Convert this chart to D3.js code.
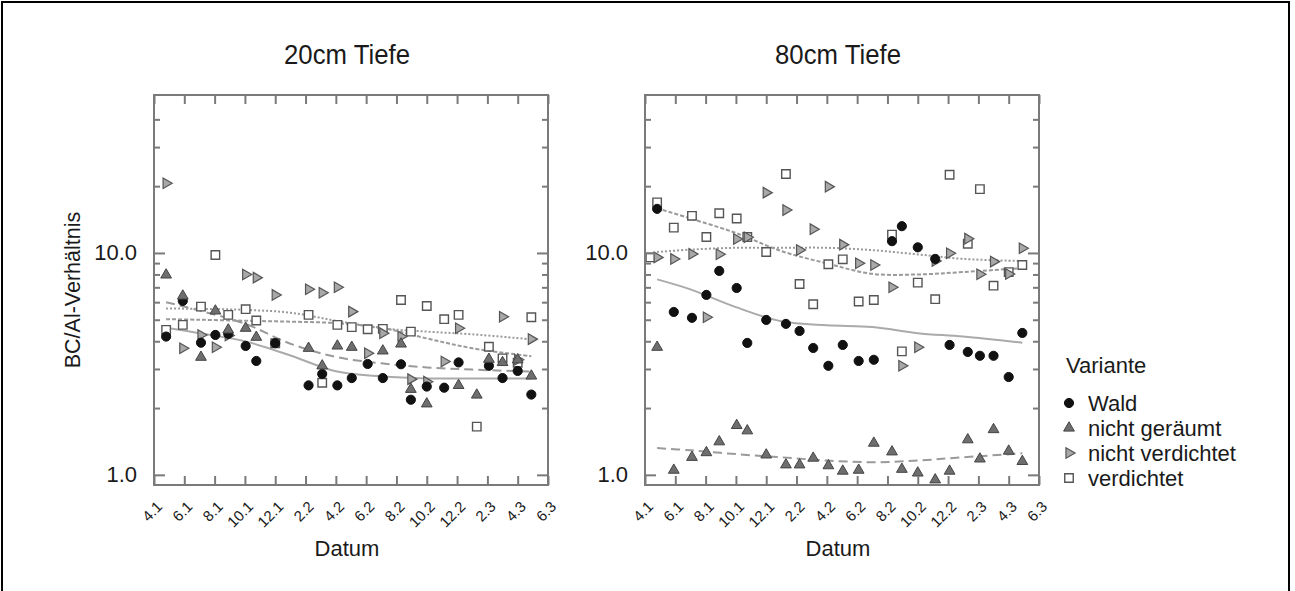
<!DOCTYPE html>
<html>
<head>
<meta charset="utf-8">
<script src="https://cdn.jsdelivr.net/npm/d3@7"></script>
<style>
  html, body { margin: 0; padding: 0; background: #fff; }
  svg { display: block; font-family: "Liberation Sans", Arial, Helvetica, sans-serif; }
</style>
</head>
<body>
<svg id="chart" width="1295" height="591"></svg>
<script>
// Sampling dates, in months counted from the 4.1 tick (April, year 1)
const sampleMonths = [0.35, 0.8, 1.9, 3.1, 4.05, 4.9, 6.05, 6.75, 8.0, 9.3, 10.2, 11.1, 12.1,
  13.05, 14.1, 15.1, 16.3, 16.95, 18.0, 19.15, 20.1, 21.3, 22.1, 23.0, 24.0, 24.9];

// Axis ticks: every second month, labelled month.year
const tickMonths = d3.range(0, 27, 2);
const tickLabels = ["4.1", "6.1", "8.1", "10.1", "12.1", "2.2", "4.2", "6.2", "8.2", "10.2", "12.2", "2.3", "4.3", "6.3"];

const variants = ["Wald", "nicht geräumt", "nicht verdichtet", "verdichtet"];

// BC/Al ratio, 20 cm depth
const wald20 = [null, 4.20, 6.08, 3.94, 4.27, 4.32, 3.81, 3.26, 3.92, null, 2.53, 2.85, 2.53,
  2.73, 3.16, 2.73, 3.15, 2.18, 2.50, 2.47, 3.21, null, 3.10, 2.73, 2.94, 2.30];
const geraeumt20 = [null, 7.96, 6.40, 3.39, 5.48, 4.50, 4.58, 4.17, null, null, 3.72, 3.10, 3.81,
  3.76, null, 3.62, 3.89, 2.43, 2.09, null, 2.53, 2.29, 3.32, 3.21, 3.30, 2.79];
const nichtVerd20 = [null, 20.6, 3.72, 4.27, 3.76, 4.25, 8.0, 7.74, 6.47, null, 6.86, 6.62, 7.0,
  5.44, 3.53, 4.35, 4.20, 2.70, 2.63, 3.24, 4.58, null, null, 5.16, 3.30, 4.09];
const verd20 = [null, 4.50, 4.74, 5.73, 9.79, 5.26, 5.58, 4.96, 3.92, null, 5.26, 2.60, 4.74,
  4.63, 4.53, 4.55, 6.14, 4.42, 5.77, 5.03, 5.26, 1.65, 3.78, 3.35, 3.20, 5.13];

// BC/Al ratio, 80 cm depth
const wald80 = [null, 15.8, 5.42, 5.10, 6.47, 8.30, 6.95, 3.93, 4.99, 4.79, 4.45, 3.73, 3.10,
  3.85, 3.26, 3.30, 11.3, 13.2, 10.6, 9.40, 3.85, 3.58, 3.44, 3.44, 2.76, 4.36];
const geraeumt80 = [null, 3.76, 1.05, 1.20, 1.26, 1.41, 1.67, 1.58, 1.23, 1.11, 1.11, 1.19, 1.10,
  1.04, 1.05, 1.39, 1.27, 1.06, 1.02, 0.95, 1.04, 1.44, 1.18, 1.60, 1.28, 1.15];
const nichtVerd80 = [null, 9.55, 9.40, 9.90, 5.13, 9.86, 11.56, 11.77, 18.7, 15.6, 10.3, 12.8, 19.9,
  10.9, 8.99, 8.83, 7.01, 3.10, 3.76, 9.20, 9.97, 11.6, 8.02, 9.14, 8.04, 10.5];
const verd80 = [9.55, 16.9, 13.0, 14.7, 11.8, 15.1, 14.3, 11.8, 10.1, 22.7, 7.25, 5.87, 8.89,
  9.36, 6.04, 6.14, 12.1, 3.60, 7.35, 6.19, 22.5, 11.0, 19.4, 7.12, 8.2, 8.83];

// Smoothed trend per variant, evaluated at these months
const trendMonths = [0.8, 3, 6, 9, 12, 15, 18, 21, 24.9];
const trendWald20 = [4.6, 4.35, 4.0, 3.45, 2.93, 2.78, 2.72, 2.72, 2.72];
const trendGeraeumt20 = [6.0, 5.5, 4.8, 3.9, 3.4, 3.18, 3.05, 2.98, 2.92];
const trendNichtVerd20 = [5.62, 5.6, 5.54, 5.38, 4.95, 4.58, 4.42, 4.3, 4.08];
const trendVerd20 = [5.03, 5.0, 4.95, 4.9, 4.83, 4.6, 4.12, 3.72, 3.42];
const trendWald80 = [7.6, 6.85, 5.7, 4.92, 4.72, 4.64, 4.35, 4.2, 3.94];
const trendGeraeumt80 = [1.32, 1.29, 1.24, 1.20, 1.16, 1.14, 1.16, 1.20, 1.25];
const trendNichtVerd80 = [10.1, 10.35, 10.55, 10.55, 10.55, 10.3, 9.85, 9.4, 9.2];
const trendVerd80 = [15.9, 14.3, 12.3, 10.2, 8.97, 8.05, 8.0, 8.2, 8.55];

const yMajor = [1, 10];
const yMinor = [2, 3, 4, 5, 6, 7, 8, 9, 20, 30, 40];

// ---------------------------------------------------------------------------
const svg = d3.select("#chart");
const textColor = "#1a1a1a";
const frameColor = "#7a7a7a";

// outer border
svg.append("rect").attr("x", 2).attr("y", 2).attr("width", 1287).attr("height", 620)
  .attr("fill", "none").attr("stroke", "#000").attr("stroke-width", 2);

const plotTop = 95, plotBottom = 485, plotWidth = 394;
const y = d3.scaleLog().domain([0.9, 51.5]).range([plotBottom, plotTop]);

const styles = {
  "Wald": { symbol: d3.symbolCircle, size: 66, rotate: 0, fill: "#111", stroke: "#111", sw: 1,
            line: "#aaa", dash: null },
  "nicht geräumt": { symbol: d3.symbolTriangle, size: 50, rotate: 0, fill: "#6e6e6e", stroke: "#444", sw: 1,
            line: "#9a9a9a", dash: "9,5" },
  "nicht verdichtet": { symbol: d3.symbolTriangle, size: 48, rotate: 90, fill: "#a8a8a8", stroke: "#555", sw: 1.2,
            line: "#9a9a9a", dash: "2,2" },
  "verdichtet": { symbol: d3.symbolSquare, size: 72, rotate: 0, fill: "#fff", stroke: "#555", sw: 1.4,
            line: "#9a9a9a", dash: "4,2" }
};

const panels = [
  { title: "20cm Tiefe", x0: 154, yTitle: true,
    series: { "Wald": wald20, "nicht geräumt": geraeumt20, "nicht verdichtet": nichtVerd20, "verdichtet": verd20 },
    trends: { "Wald": trendWald20, "nicht geräumt": trendGeraeumt20, "nicht verdichtet": trendNichtVerd20, "verdichtet": trendVerd20 } },
  { title: "80cm Tiefe", x0: 645, yTitle: false,
    series: { "Wald": wald80, "nicht geräumt": geraeumt80, "nicht verdichtet": nichtVerd80, "verdichtet": verd80 },
    trends: { "Wald": trendWald80, "nicht geräumt": trendGeraeumt80, "nicht verdichtet": trendNichtVerd80, "verdichtet": trendVerd80 } }
];

function symbolPath(v) {
  return d3.symbol().type(styles[v].symbol).size(styles[v].size)();
}

panels.forEach(p => {
  const x = d3.scaleLinear().domain([0, 26]).range([p.x0, p.x0 + plotWidth]);
  const g = svg.append("g");

  // title (slightly condensed lettering)
  const cx = p.x0 + plotWidth / 2 - 4;
  g.append("text")
    .attr("transform", `translate(${cx},64) scale(0.92,1)`)
    .attr("text-anchor", "middle").attr("font-size", 28).attr("fill", textColor)
    .text(p.title);

  // trend lines
  const line = d3.line()
    .x((d, i) => x(trendMonths[i]))
    .y(d => y(d))
    .curve(d3.curveCatmullRom);
  variants.forEach(v => {
    g.append("path").datum(p.trends[v])
      .attr("d", line)
      .attr("fill", "none")
      .attr("stroke", styles[v].line)
      .attr("stroke-width", 2)
      .attr("stroke-dasharray", styles[v].dash);
  });

  // points
  ["verdichtet", "nicht verdichtet", "Wald", "nicht geräumt"].forEach(v => {
    const st = styles[v];
    const pts = p.series[v].map((val, i) => ({ m: sampleMonths[i], val })).filter(d => d.val != null);
    g.append("g").selectAll("path").data(pts).join("path")
      .attr("d", symbolPath(v))
      .attr("transform", d => `translate(${x(d.m)},${y(d.val)}) rotate(${st.rotate})`)
      .attr("fill", st.fill).attr("stroke", st.stroke).attr("stroke-width", st.sw);
  });

  // frame
  g.append("rect").attr("x", p.x0).attr("y", plotTop).attr("width", plotWidth)
    .attr("height", plotBottom - plotTop).attr("fill", "none")
    .attr("stroke", frameColor).attr("stroke-width", 2);

  // x axes (ticks pointing inward on top and bottom)
  const xb = g.append("g").attr("transform", `translate(0,${plotBottom})`)
    .call(d3.axisBottom(x).tickValues(tickMonths).tickSize(-9).tickSizeOuter(0)
      .tickFormat((d, i) => tickLabels[i]));
  g.append("g").attr("transform", `translate(0,${plotTop})`)
    .call(d3.axisTop(x).tickValues(tickMonths).tickSize(-9).tickSizeOuter(0).tickFormat(""));
  xb.selectAll(".tick text")
    .attr("x", 0).attr("y", 0).attr("dy", "0.35em")
    .attr("text-anchor", "end")
    .attr("font-size", 15).attr("fill", textColor)
    .attr("transform", "translate(5,19) rotate(-45)");

  // y axes: major and minor ticks, both sides
  const yl = g.append("g").attr("transform", `translate(${p.x0},0)`)
    .call(d3.axisLeft(y).tickValues(yMajor).tickSize(-11).tickSizeOuter(0).tickPadding(17)
      .tickFormat(d3.format(".1f")));
  yl.selectAll(".tick text").attr("font-size", 22).attr("fill", textColor);
  g.append("g").attr("transform", `translate(${p.x0},0)`)
    .call(d3.axisLeft(y).tickValues(yMinor).tickSize(-6).tickSizeOuter(0).tickFormat(""));
  g.append("g").attr("transform", `translate(${p.x0 + plotWidth},0)`)
    .call(d3.axisRight(y).tickValues(yMajor).tickSize(-11).tickSizeOuter(0).tickFormat(""));
  g.append("g").attr("transform", `translate(${p.x0 + plotWidth},0)`)
    .call(d3.axisRight(y).tickValues(yMinor).tickSize(-6).tickSizeOuter(0).tickFormat(""));

  g.selectAll(".domain").remove();
  g.selectAll(".tick line").attr("stroke", frameColor).attr("stroke-width", 2);

  // x title
  g.append("text").attr("x", cx).attr("y", 556)
    .attr("text-anchor", "middle").attr("font-size", 22).attr("fill", textColor)
    .text("Datum");

  if (p.yTitle) {
    g.append("text")
      .attr("transform", `translate(80,${(plotTop + plotBottom) / 2}) rotate(-90)`)
      .attr("text-anchor", "middle").attr("font-size", 21.5).attr("fill", textColor)
      .text("BC/Al-Verhältnis");
  }
});

// legend
const lg = svg.append("g").attr("transform", "translate(1066,0)");
lg.append("text").attr("x", 0).attr("y", 373).attr("font-size", 22).attr("fill", textColor)
  .text("Variante");
const legendY = [403, 428, 453, 478];
variants.forEach((v, i) => {
  const st = styles[v];
  lg.append("path").attr("d", symbolPath(v))
    .attr("transform", `translate(3,${legendY[i]}) rotate(${st.rotate})`)
    .attr("fill", st.fill).attr("stroke", st.stroke).attr("stroke-width", st.sw);
  lg.append("text").attr("x", 22).attr("y", legendY[i]).attr("dy", "0.36em")
    .attr("font-size", 22).attr("fill", textColor).text(v);
});
</script>
</body>
</html>
